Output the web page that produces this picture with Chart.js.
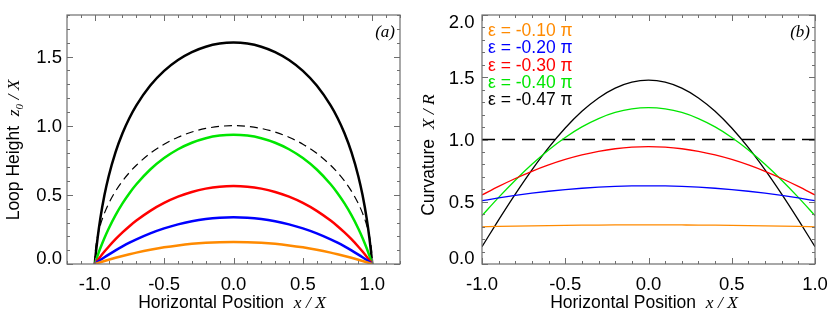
<!DOCTYPE html>
<html lang="en">
<head>
<meta charset="UTF-8">
<title>Loop height and curvature</title>
<script src="https://cdn.jsdelivr.net/npm/chart.js"></script>
<style>
    body { margin: 0; background: #fff; }
    .row { display: flex; width: 830px; height: 311px; }
    canvas { display: block; }
</style>
</head>
<body>
<div class="row">
    <canvas id="loopChart" width="415" height="311"></canvas>
    <canvas id="curvChart" width="415" height="311"></canvas>
</div>
<script>
// panel (a): loop height z0/X vs x/X
const xLoop = [-1, -0.995, -0.99, -0.98, -0.96, -0.93, -0.9, -0.85, -0.8, -0.75, -0.7, -0.6, -0.5, -0.4, -0.3, -0.2, -0.1, 0,
               0.1, 0.2, 0.3, 0.4, 0.5, 0.6, 0.7, 0.75, 0.8, 0.85, 0.9, 0.93, 0.96, 0.98, 0.99, 0.995, 1];
const loopOrange = [0, 0.0016, 0.0032, 0.0064, 0.0127, 0.0219, 0.0308, 0.0449, 0.0581, 0.0705, 0.0821, 0.1028, 0.1203, 0.1345, 0.1456, 0.1534, 0.1581, 0.1597,
                    0.1581, 0.1534, 0.1456, 0.1345, 0.1203, 0.1028, 0.0821, 0.0705, 0.0581, 0.0449, 0.0308, 0.0219, 0.0127, 0.0064, 0.0032, 0.0016, 0];
const loopBlue   = [0, 0.0036, 0.0073, 0.0145, 0.0284, 0.0487, 0.0681, 0.0988, 0.1273, 0.1538, 0.1783, 0.2216, 0.2576, 0.2866, 0.3090, 0.3249, 0.3343, 0.3375,
                    0.3343, 0.3249, 0.3090, 0.2866, 0.2576, 0.2216, 0.1783, 0.1538, 0.1273, 0.0988, 0.0681, 0.0487, 0.0284, 0.0145, 0.0073, 0.0036, 0];
const loopRed    = [0, 0.0068, 0.0136, 0.0270, 0.0529, 0.0900, 0.1250, 0.1792, 0.2284, 0.2732, 0.3139, 0.3843, 0.4414, 0.4866, 0.5208, 0.5448, 0.5591, 0.5638,
                    0.5591, 0.5448, 0.5208, 0.4866, 0.4414, 0.3843, 0.3139, 0.2732, 0.2284, 0.1792, 0.1250, 0.0900, 0.0529, 0.0270, 0.0136, 0.0068, 0];
const loopGreen  = [0, 0.0153, 0.0301, 0.0591, 0.1136, 0.1880, 0.2551, 0.3531, 0.4380, 0.5117, 0.5762, 0.6830, 0.7659, 0.8295, 0.8766, 0.9091, 0.9282, 0.9345,
                    0.9282, 0.9091, 0.8766, 0.8295, 0.7659, 0.6830, 0.5762, 0.5117, 0.4380, 0.3531, 0.2551, 0.1880, 0.1136, 0.0591, 0.0301, 0.0153, 0];
const loopBlack  = [0, 0.0509, 0.0983, 0.1839, 0.3279, 0.4980, 0.6328, 0.8085, 0.9449, 1.0552, 1.1469, 1.2904, 1.3963, 1.4749, 1.5318, 1.5706, 1.5932, 1.6006,
                    1.5932, 1.5706, 1.5318, 1.4749, 1.3963, 1.2904, 1.1469, 1.0552, 0.9449, 0.8085, 0.6328, 0.4980, 0.3279, 0.1839, 0.0983, 0.0509, 0];
const loopCircle = [0, 0.0999, 0.1411, 0.1990, 0.2800, 0.3676, 0.4359, 0.5268, 0.6000, 0.6614, 0.7141, 0.8000, 0.8660, 0.9165, 0.9539, 0.9798, 0.9950, 1.0,
                    0.9950, 0.9798, 0.9539, 0.9165, 0.8660, 0.8000, 0.7141, 0.6614, 0.6000, 0.5268, 0.4359, 0.3676, 0.2800, 0.1990, 0.1411, 0.0999, 0];

// panel (b): curvature X/R vs x/X
const xCurv = [-1, -0.9, -0.8, -0.7, -0.6, -0.5, -0.4, -0.3, -0.2, -0.1, 0,
               0.1, 0.2, 0.3, 0.4, 0.5, 0.6, 0.7, 0.8, 0.9, 1];
const curvOrange = [0.2988, 0.3017, 0.3043, 0.3066, 0.3086, 0.3103, 0.3117, 0.3128, 0.3135, 0.3140, 0.3142,
                    0.3140, 0.3135, 0.3128, 0.3117, 0.3103, 0.3086, 0.3066, 0.3043, 0.3017, 0.2988];
const curvBlue   = [0.5083, 0.5305, 0.5506, 0.5685, 0.5842, 0.5976, 0.6086, 0.6172, 0.6234, 0.6271, 0.6283,
                    0.6271, 0.6234, 0.6172, 0.6086, 0.5976, 0.5842, 0.5685, 0.5506, 0.5305, 0.5083];
const curvRed    = [0.5540, 0.6233, 0.6870, 0.7447, 0.7958, 0.8398, 0.8763, 0.9051, 0.9258, 0.9383, 0.9425,
                    0.9383, 0.9258, 0.9051, 0.8763, 0.8398, 0.7958, 0.7447, 0.6870, 0.6233, 0.5540];
const curvGreen  = [0.3883, 0.5351, 0.6733, 0.8010, 0.9161, 1.0166, 1.1012, 1.1684, 1.2172, 1.2467, 1.2566,
                    1.2467, 1.2172, 1.1684, 1.1012, 1.0166, 0.9161, 0.8010, 0.6733, 0.5351, 0.3883];
const curvBlack  = [0.1390, 0.3537, 0.5608, 0.7556, 0.9340, 1.0921, 1.2264, 1.3340, 1.4126, 1.4605, 1.4766,
                    1.4605, 1.4126, 1.3340, 1.2264, 1.0921, 0.9340, 0.7556, 0.5608, 0.3537, 0.1390];
const xRef = [-1, 1];
const curvRef = [1, 1];

const epsLabels = ['ε = -0.10 π', 'ε = -0.20 π', 'ε = -0.30 π', 'ε = -0.40 π', 'ε = -0.47 π'];
const epsColors = ['#ff8a00', '#0000ff', '#ff0000', '#00e600', '#000000'];

const loopXTicks = [-1, -0.5, 0, 0.5, 1];
const loopYTicks = [0, 0.5, 1, 1.5];
const curvXTicks = [-1, -0.5, 0, 0.5, 1];
const curvYTicks = [0, 0.5, 1, 1.5, 2];

const SANS = "'Liberation Sans', Arial, sans-serif";
const SERIF = "'Liberation Serif', 'Times New Roman', serif";

function pts(xs, ys) {
    return xs.map((x, i) => ({ x: x, y: ys[i] }));
}

function line(xs, ys, color, width, dash) {
    return {
        data: pts(xs, ys),
        borderColor: color,
        borderWidth: width,
        borderDash: dash || [],
        pointRadius: 0,
        fill: false,
        cubicInterpolationMode: 'monotone'
    };
}

// box with inward ticks on all four sides (minor 0.1, major 0.5)
const framePlugin = {
    id: 'frame',
    afterDraw(chart) {
        const { ctx, chartArea: a, scales: { x, y } } = chart;
        ctx.save();
        ctx.strokeStyle = '#6e6e6e';
        ctx.lineWidth = 1.2;
        ctx.strokeRect(a.left, a.top, a.right - a.left, a.bottom - a.top);
        ctx.beginPath();
        for (let i = Math.ceil(x.min * 10 - 1e-6); i <= Math.floor(x.max * 10 + 1e-6); i++) {
            const px = Math.round(x.getPixelForValue(i / 10)) + 0.5;
            const len = i % 5 === 0 ? 6 : 3;
            ctx.moveTo(px, a.bottom); ctx.lineTo(px, a.bottom - len);
            ctx.moveTo(px, a.top); ctx.lineTo(px, a.top + len);
        }
        for (let i = Math.ceil(y.min * 10 - 1e-6); i <= Math.floor(y.max * 10 + 1e-6); i++) {
            const py = Math.round(y.getPixelForValue(i / 10)) + 0.5;
            const len = i % 5 === 0 ? 6 : 3;
            ctx.moveTo(a.left, py); ctx.lineTo(a.left + len, py);
            ctx.moveTo(a.right, py); ctx.lineTo(a.right - len, py);
        }
        ctx.lineWidth = 1;
        ctx.stroke();
        ctx.restore();
    }
};

// tick labels placed on the scales' own pixels; end labels nudged inside like the original
function tickLabelsPlugin(xTicks, yTicks, yGap) {
    return {
        id: 'tickLabels',
        afterDraw(chart) {
            const { ctx, chartArea: a, scales: { x, y } } = chart;
            ctx.save();
            ctx.fillStyle = '#000';
            ctx.font = '18.5px ' + SANS;
            ctx.textBaseline = 'alphabetic';
            ctx.textAlign = 'center';
            xTicks.forEach(v => {
                ctx.fillText(v.toFixed(1), x.getPixelForValue(v), 289.5);
            });
            ctx.textAlign = 'right';
            yTicks.forEach(v => {
                let py = y.getPixelForValue(v);
                if (v === y.min) py -= 7;
                if (v === y.max) py += 6.7;
                ctx.fillText(v.toFixed(1), a.left - yGap, py + 6.6);
            });
            ctx.restore();
        }
    };
}

// draws a run of [text, font, dy] pieces starting at (0,0) in current transform
function drawPieces(ctx, pieces, align) {
    let total = 0;
    pieces.forEach(p => { ctx.font = p[1]; total += ctx.measureText(p[0]).width; });
    let cx = align === 'center' ? -total / 2 : 0;
    pieces.forEach(p => {
        ctx.font = p[1];
        ctx.fillText(p[0], cx, p[2] || 0);
        cx += ctx.measureText(p[0]).width;
    });
}

function titlesPlugin(yPieces, yMid, xMid, panel) {
    return {
        id: 'titles',
        afterDraw(chart) {
            const { ctx, chartArea: a } = chart;
            ctx.save();
            ctx.fillStyle = '#000';
            ctx.textBaseline = 'alphabetic';
            ctx.textAlign = 'left';
            // x title
            ctx.save();
            ctx.translate(xMid, 308);
            drawPieces(ctx, [
                ['Horizontal Position  ', '17.5px ' + SANS],
                ['x / X', 'italic 17.5px ' + SERIF]
            ], 'center');
            ctx.restore();
            // y title
            ctx.save();
            ctx.translate(19, yMid);
            ctx.rotate(-Math.PI / 2);
            drawPieces(ctx, yPieces, 'center');
            ctx.restore();
            // panel letter
            ctx.font = 'italic 17px ' + SERIF;
            ctx.textAlign = 'right';
            ctx.fillText(panel, a.right - 5, a.top + 22);
            ctx.restore();
        }
    };
}

const legendPlugin = {
    id: 'epsLegend',
    afterDraw(chart) {
        const { ctx, chartArea: a } = chart;
        ctx.save();
        ctx.font = '17.5px ' + SANS;
        ctx.textAlign = 'left';
        ctx.textBaseline = 'middle';
        epsLabels.forEach((t, i) => {
            ctx.fillStyle = epsColors[i];
            ctx.fillText(t, a.left + 6, a.top + 16 + i * 17.4);
        });
        ctx.restore();
    }
};

function axisOpts(min, max, isY) {
    return {
        type: 'linear',
        min: min,
        max: max,
        afterFit: s => { if (isY) s.width = 67; else s.height = 47; },
        grid: { display: false, drawTicks: false, tickLength: 0 },
        border: { display: false },
        ticks: { display: false }
    };
}

const baseOptions = (scales) => ({
    responsive: false,
    animation: false,
    layout: { padding: { left: 0, top: 15, right: 15, bottom: 0 } },
    plugins: { legend: { display: false }, tooltip: { enabled: false } },
    scales: scales
});

new Chart(document.getElementById('loopChart'), {
    type: 'line',
    data: {
        datasets: [
            line(xLoop, loopOrange, epsColors[0], 2.5),
            line(xLoop, loopBlue, epsColors[1], 2.5),
            line(xLoop, loopRed, epsColors[2], 2.5),
            line(xLoop, loopGreen, epsColors[3], 2.5),
            line(xLoop, loopCircle, '#000', 1.2, [8, 5]),
            line(xLoop, loopBlack, '#000', 2.5)
        ]
    },
    options: baseOptions({
        x: axisOpts(-1.2, 1.2, false),
        y: axisOpts(0, 1.8, true)
    }),
    plugins: [framePlugin, tickLabelsPlugin(loopXTicks, loopYTicks, 5), titlesPlugin([
        ['Loop Height  ', '17.5px ' + SANS],
        ['z', 'italic 17.5px ' + SERIF],
        ['0', 'italic 11px ' + SERIF, 4],
        [' / X', 'italic 17.5px ' + SERIF]
    ], 150, 232, '(a)')]
});

new Chart(document.getElementById('curvChart'), {
    type: 'line',
    data: {
        datasets: [
            line(xCurv, curvOrange, epsColors[0], 1.3),
            line(xCurv, curvBlue, epsColors[1], 1.3),
            line(xCurv, curvRed, epsColors[2], 1.3),
            line(xCurv, curvGreen, epsColors[3], 1.3),
            line(xCurv, curvBlack, '#000', 1.3),
            line(xRef, curvRef, '#000', 1.3, [13, 7])
        ]
    },
    options: baseOptions({
        x: axisOpts(-1, 1, false),
        y: axisOpts(0, 2, true)
    }),
    plugins: [framePlugin, legendPlugin, tickLabelsPlugin(curvXTicks, curvYTicks, 7.5), titlesPlugin([
        ['Curvature  ', '17.5px ' + SANS],
        ['X / R', 'italic 17.5px ' + SERIF]
    ], 155, 229, '(b)')]
});
</script>
</body>
</html>
